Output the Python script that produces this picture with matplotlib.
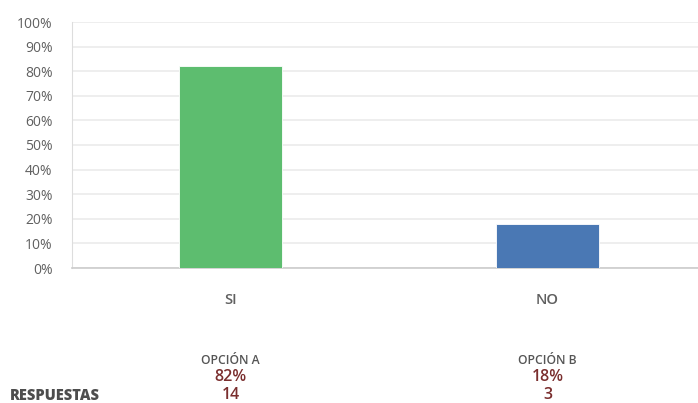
import matplotlib.pyplot as plt
import matplotlib.transforms as mtransforms
from matplotlib.ticker import PercentFormatter

categories = ['SI', 'NO']
percent = [82, 18]
counts = [14, 3]
options = ['OPCIÓN A', 'OPCIÓN B']
colors = ['#5dbd6f', '#4a78b4']

plt.rcParams['font.family'] = ['Open Sans', 'DejaVu Sans']

fig = plt.figure(figsize=(6.98, 4.03), dpi=100)
ax = fig.add_axes([72 / 698, 1 - 268 / 403, 634 / 698, 246 / 403])

x = list(range(len(categories)))
ax.bar(x, percent, width=0.325, color=colors, edgecolor='#ffffff', linewidth=0.6, zorder=3)

ax.set_xlim(-0.5, 1.5)
ax.set_ylim(0, 100)
ax.set_yticks(range(0, 101, 10))
ax.yaxis.set_major_formatter(PercentFormatter(decimals=0))
ax.set_xticks(x)
ax.set_xticklabels(categories)
ax.tick_params(axis='y', length=0, pad=14, labelsize=10, labelcolor='#606060')
ax.tick_params(axis='x', length=0, pad=18, labelsize=10.5, labelcolor='#606060')
for lbl in ax.get_xticklabels():
    lbl.set_fontweight('semibold')
ax.grid(axis='y', color='#ebebeb', linewidth=1.2, zorder=0)

for side in ['top', 'right']:
    ax.spines[side].set_visible(False)
ax.spines['left'].set_color('#dddddd')
ax.spines['bottom'].set_color('#cccccc')
ax.spines['bottom'].set_linewidth(1.2)

# summary block below the chart
trans = mtransforms.blended_transform_factory(ax.transData, fig.transFigure)
for i in x:
    ax.text(i, 1 - 360 / 403, options[i], transform=trans, ha='center', va='center',
            fontsize=8.7, color='#555555', fontweight='semibold')
    ax.text(i, 1 - 377 / 403, f'{percent[i]}%', transform=trans, ha='center', va='center',
            fontsize=11.5, color='#7a2e2e', fontweight='semibold')
    ax.text(i, 1 - 395 / 403, str(counts[i]), transform=trans, ha='center', va='center',
            fontsize=11.5, color='#7a2e2e', fontweight='semibold')

fig.text(10 / 698, 1 - 396 / 403, 'RESPUESTAS', ha='left', va='center',
         fontsize=10.5, fontweight='heavy', color='#4d4d4d')

fig.savefig('out.png', dpi=100)
